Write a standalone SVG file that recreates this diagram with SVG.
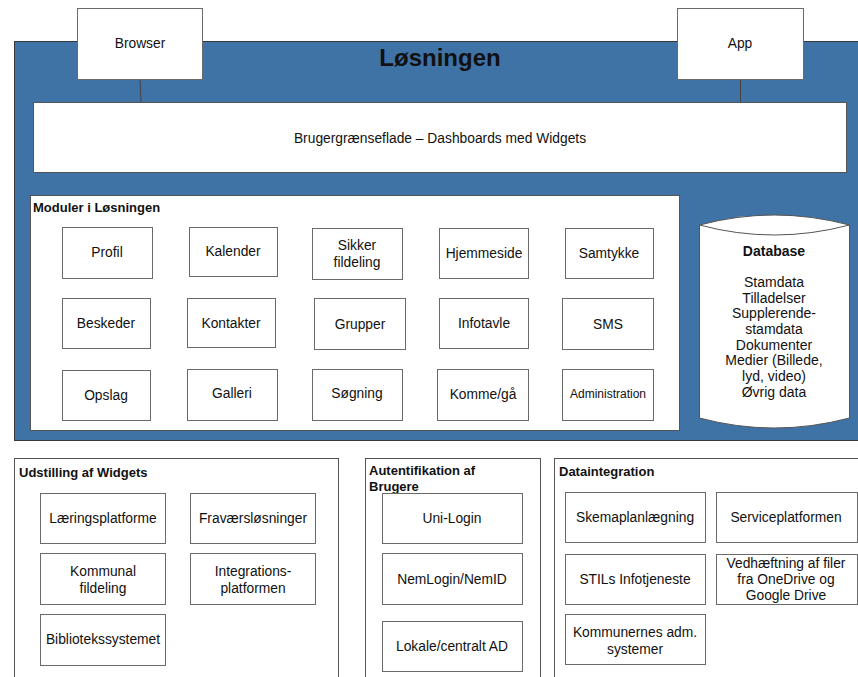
<svg xmlns="http://www.w3.org/2000/svg" width="858" height="677" viewBox="0 0 858 677">
<style>
text{font-family:"Liberation Sans",Arial,sans-serif;fill:#111;}
.lbl{font-size:13.8px;text-anchor:middle;}
.sm{font-size:12px;text-anchor:middle;}
.ttl{font-size:13px;font-weight:bold;}
.box{fill:#fff;stroke:#6a6a6a;stroke-width:1;}
.cont{fill:#fff;stroke:#555;stroke-width:1;}
.conn{stroke:#444;stroke-width:1;fill:none;}
.db{font-size:14px;text-anchor:middle;}
</style>
<rect id="losningen" x="14.5" y="41.5" width="850" height="399" fill="#3f73a6" stroke="#3a3a3a"/>
<text x="440" y="66" font-size="24" font-weight="bold" text-anchor="middle">Løsningen</text>
<g id="connectors">
<line class="conn" x1="140" y1="79" x2="141" y2="102"/>
<line class="conn" x1="740.5" y1="79" x2="740.5" y2="102"/>
</g>
<g id="browser"><rect class="box" x="77.5" y="8.5" width="125" height="71"/><text class="lbl" x="140" y="48">Browser</text></g>
<g id="app"><rect class="box" x="677.5" y="8.5" width="126" height="71"/><text class="lbl" x="740" y="48">App</text></g>
<g id="bruger"><rect class="cont" x="33.5" y="102.5" width="813" height="70"/><text class="lbl" x="440" y="143">Brugergrænseflade – Dashboards med Widgets</text></g>
<g id="moduler"><rect class="cont" x="30.5" y="195.5" width="649" height="235"/><text class="ttl" x="33" y="212">Moduler i Løsningen</text></g>
<g id="profil"><rect class="box" x="62.5" y="227.5" width="90" height="51"/><text class="lbl" x="107" y="257">Profil</text></g>
<g id="kalender"><rect class="box" x="189.5" y="227.5" width="88" height="49"/><text class="lbl" x="233" y="256">Kalender</text></g>
<g id="sikker"><rect class="box" x="312.5" y="228.5" width="90" height="51"/><text class="lbl" x="357" y="250">Sikker</text><text class="lbl" x="357" y="267">fildeling</text></g>
<g id="hjemmeside"><rect class="box" x="439.5" y="228.5" width="89" height="50"/><text class="lbl" x="484" y="258">Hjemmeside</text></g>
<g id="samtykke"><rect class="box" x="565.5" y="228.5" width="88" height="50"/><text class="lbl" x="609" y="258">Samtykke</text></g>
<g id="beskeder"><rect class="box" x="62.5" y="298.5" width="88" height="50"/><text class="lbl" x="106" y="328">Beskeder</text></g>
<g id="kontakter"><rect class="box" x="187.5" y="298.5" width="88" height="49"/><text class="lbl" x="231" y="328">Kontakter</text></g>
<g id="grupper"><rect class="box" x="314.5" y="298.5" width="91" height="51"/><text class="lbl" x="360" y="329">Grupper</text></g>
<g id="infotavle"><rect class="box" x="439.5" y="298.5" width="89" height="50"/><text class="lbl" x="484" y="328">Infotavle</text></g>
<g id="sms"><rect class="box" x="562.5" y="298.5" width="91" height="51"/><text class="lbl" x="608" y="329">SMS</text></g>
<g id="opslag"><rect class="box" x="62.5" y="370.5" width="88" height="50"/><text class="lbl" x="106" y="400">Opslag</text></g>
<g id="galleri"><rect class="box" x="187.5" y="369.5" width="90" height="51"/><text class="lbl" x="232" y="398">Galleri</text></g>
<g id="sogning"><rect class="box" x="312.5" y="369.5" width="90" height="51"/><text class="lbl" x="357" y="398">Søgning</text></g>
<g id="komme"><rect class="box" x="437.5" y="369.5" width="91" height="51"/><text class="lbl" x="483" y="399">Komme/gå</text></g>
<g id="administration"><rect class="box" x="562.5" y="369.5" width="91" height="51"/><text class="sm" x="608" y="398">Administration</text></g>
<g id="database">
<path d="M699.5,225 Q774,205 849.5,225 L849.5,418 Q774,438 699.5,418 Z" fill="#fff" stroke="#555"/>
<path d="M699.5,225 Q774,245 849.5,225" fill="none" stroke="#555"/>
<text class="db" x="774" y="256" font-weight="bold">Database</text>
<text class="db" x="774" y="287">Stamdata</text>
<text class="db" x="774" y="303">Tilladelser</text>
<text class="db" x="774" y="318">Supplerende-</text>
<text class="db" x="774" y="334">stamdata</text>
<text class="db" x="774" y="350">Dokumenter</text>
<text class="db" x="774" y="365">Medier (Billede,</text>
<text class="db" x="774" y="381">lyd, video)</text>
<text class="db" x="774" y="397">Øvrig data</text>
</g>
<g id="udstilling"><rect class="cont" x="14.5" y="458.5" width="324" height="240"/><text class="ttl" x="19" y="477">Udstilling af Widgets</text></g>
<g id="laering"><rect class="box" x="40.5" y="493.5" width="125" height="50"/><text class="lbl" x="103" y="523">Læringsplatforme</text></g>
<g id="fravaer"><rect class="box" x="190.5" y="493.5" width="125" height="50"/><text class="lbl" x="253" y="523">Fraværsløsninger</text></g>
<g id="kommunal"><rect class="box" x="40.5" y="553.5" width="125" height="51"/><text class="lbl" x="103" y="576">Kommunal</text><text class="lbl" x="103" y="593">fildeling</text></g>
<g id="integrations"><rect class="box" x="190.5" y="553.5" width="125" height="51"/><text class="lbl" x="253" y="576">Integrations-</text><text class="lbl" x="253" y="593">platformen</text></g>
<g id="bibliotek"><rect class="box" x="40.5" y="614.5" width="125" height="51"/><text class="lbl" x="103" y="644">Bibliotekssystemet</text></g>
<g id="autentifikation"><rect class="cont" x="365.5" y="458.5" width="175" height="240"/><text class="ttl" x="369" y="475">Autentifikation af</text><text class="ttl" x="369" y="491">Brugere</text></g>
<g id="unilogin"><rect class="box" x="382.5" y="493.5" width="140" height="50"/><text class="lbl" x="452" y="523">Uni-Login</text></g>
<g id="nemlogin"><rect class="box" x="382.5" y="553.5" width="140" height="51"/><text class="lbl" x="452" y="584">NemLogin/NemID</text></g>
<g id="lokale"><rect class="box" x="382.5" y="621.5" width="140" height="50"/><text class="lbl" x="452" y="651">Lokale/centralt AD</text></g>
<g id="dataintegration"><rect class="cont" x="554.5" y="458.5" width="310" height="240"/><text class="ttl" x="559" y="476">Dataintegration</text></g>
<g id="skema"><rect class="box" x="565.5" y="492.5" width="140" height="50"/><text class="lbl" x="635" y="522">Skemaplanlægning</text></g>
<g id="service"><rect class="box" x="716.5" y="492.5" width="141" height="50"/><text class="lbl" x="786" y="522">Serviceplatformen</text></g>
<g id="stil"><rect class="box" x="565.5" y="554.5" width="140" height="50"/><text class="lbl" x="635" y="584">STILs Infotjeneste</text></g>
<g id="vedhaeftning"><rect class="box" x="716.5" y="554.5" width="141" height="50"/><text class="lbl" x="786" y="568">Vedhæftning af filer</text><text class="lbl" x="786" y="584">fra OneDrive og</text><text class="lbl" x="786" y="600">Google Drive</text></g>
<g id="kommunernes"><rect class="box" x="565.5" y="614.5" width="140" height="50"/><text class="lbl" x="635" y="637">Kommunernes adm.</text><text class="lbl" x="635" y="654">systemer</text></g>
</svg>
